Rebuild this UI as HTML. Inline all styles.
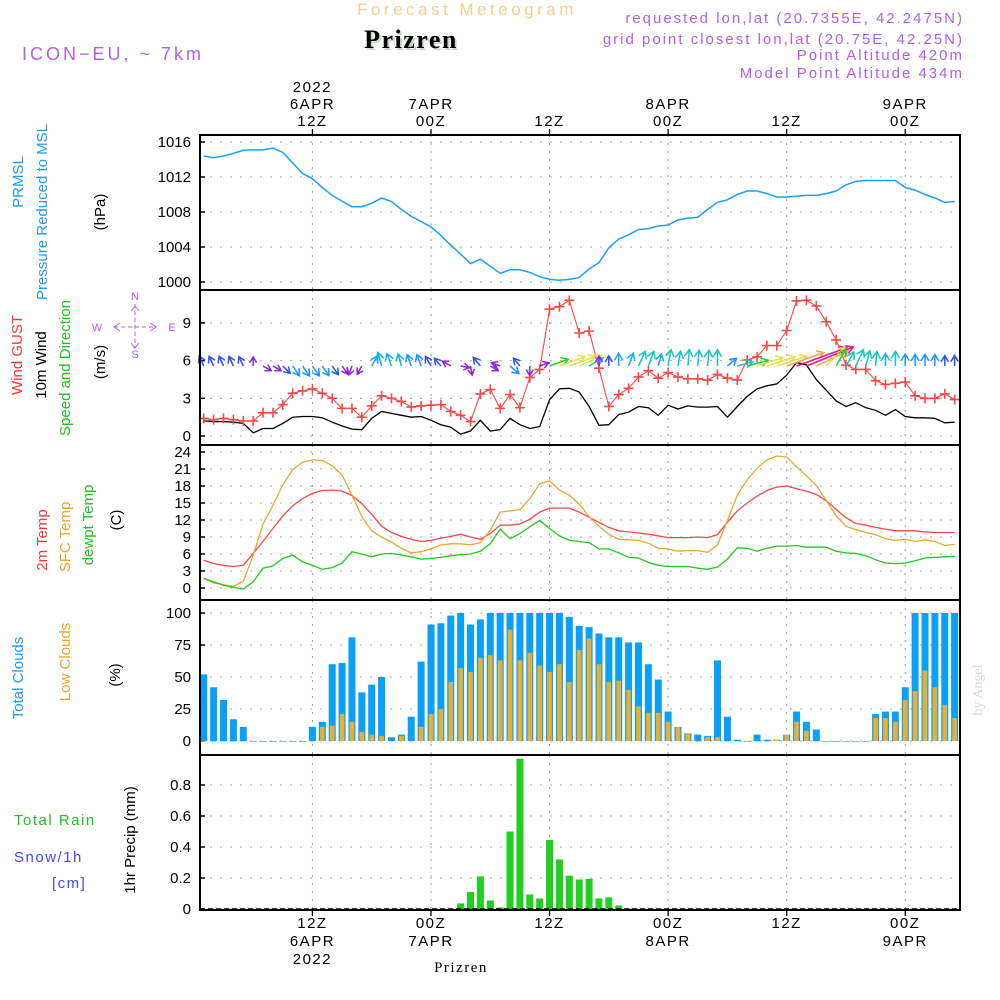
<!DOCTYPE html>
<html><head><meta charset="utf-8">
<style>
html,body{margin:0;padding:0;background:#fff;}
svg{display:block;font-family:"Liberation Sans",sans-serif;}
</style></head>
<body>
<svg id="chart" width="1000" height="1000" viewBox="0 0 1000 1000">
<text x="467" y="15" font-size="17" fill="#f3cf8c" text-anchor="middle" letter-spacing="3.5">Forecast Meteogram</text>
<text x="413" y="50" font-size="26" font-weight="bold" font-family="Liberation Serif, serif" fill="#c8d8c8" text-anchor="middle" letter-spacing="1.5">Prizren</text>
<text x="411" y="48" font-size="26" font-weight="bold" font-family="Liberation Serif, serif" fill="#000" text-anchor="middle" letter-spacing="1.5">Prizren</text>
<text x="22" y="60" font-size="18" fill="#b060e8" letter-spacing="3">ICON−EU,  ~  7km</text>
<g font-size="15" fill="#b060e8" text-anchor="end" letter-spacing="2">
<text x="964" y="23">requested lon,lat (20.7355E, 42.2475N)</text>
<text x="964" y="44">grid point closest lon,lat (20.75E, 42.25N)</text>
<text x="964" y="60">Point Altitude 420m</text>
<text x="964" y="78">Model Point Altitude 434m</text>
</g>
<g id="grid"></g>
<g id="marks"></g>
<g id="labels" font-size="15" fill="#000"></g>
<g font-size="15">
<text transform="translate(23,182) rotate(-90)" text-anchor="middle" fill="#1a9cf0">PRMSL</text>
<text transform="translate(47,212) rotate(-90)" text-anchor="middle" fill="#1a9cf0">Pressure Reduced to MSL</text>
<text transform="translate(105,212) rotate(-90)" text-anchor="middle" fill="#000">(hPa)</text>
<text transform="translate(22,355) rotate(-90)" text-anchor="middle" fill="#f03a3a">Wind GUST</text>
<text transform="translate(46,365) rotate(-90)" text-anchor="middle" fill="#000">10m Wind</text>
<text transform="translate(70,368) rotate(-90)" text-anchor="middle" fill="#22c022">Speed and Direction</text>
<text transform="translate(105,362) rotate(-90)" text-anchor="middle" fill="#000">(m/s)</text>
<g fill="#b060e8" stroke="#b060e8" font-size="11">
<text x="135" y="300" stroke="none" text-anchor="middle">N</text>
<text x="135" y="358" stroke="none" text-anchor="middle">S</text>
<text x="97" y="331" stroke="none" text-anchor="middle">W</text>
<text x="172" y="331" stroke="none" text-anchor="middle">E</text>
<line x1="135" y1="304" x2="135" y2="349" stroke-dasharray="4,3"/>
<line x1="114" y1="327" x2="156" y2="327" stroke-dasharray="4,3"/>
<path d="M131,311L135,306L139,311M131,343L135,348L139,343M120,323L114,327L120,331M150,323L156,327L150,331" fill="none"/>
</g>
<text transform="translate(47,540) rotate(-90)" text-anchor="middle" fill="#f03a3a">2m Temp</text>
<text transform="translate(70,537) rotate(-90)" text-anchor="middle" fill="#e8a830">SFC Temp</text>
<text transform="translate(93,525) rotate(-90)" text-anchor="middle" fill="#22c022">dewpt Temp</text>
<text transform="translate(121,520) rotate(-90)" text-anchor="middle" fill="#000">(C)</text>
<text transform="translate(23,678) rotate(-90)" text-anchor="middle" fill="#1a9cf0">Total Clouds</text>
<text transform="translate(70,662) rotate(-90)" text-anchor="middle" fill="#e8a830">Low Clouds</text>
<text transform="translate(120,675) rotate(-90)" text-anchor="middle" fill="#000">(%)</text>
<text x="14" y="825" fill="#22c022" letter-spacing="1.5">Total  Rain</text>
<text x="14" y="862" fill="#4848f0" letter-spacing="1.5">Snow/1h</text>
<text x="52" y="888" fill="#4848f0" letter-spacing="1.5">[cm]</text>
<text transform="translate(135,840) rotate(-90)" text-anchor="middle" fill="#000">1hr Precip (mm)</text>
</g>
<text x="461" y="972" font-size="15" font-family="Liberation Serif, serif" text-anchor="middle" letter-spacing="1.5">Prizren</text>
<text transform="translate(982,690) rotate(-90)" font-size="14" font-family="Liberation Serif, serif" fill="#d8d8d8" text-anchor="middle">by Angel</text>
</svg>
<script>
const pressure=[1014.4,1014.2,1014.4,1014.7,1015.05,1015.1,1015.1,1015.3,1014.8,1013.6,1012.4,1011.8,1010.8,1009.9,1009.25,1008.6,1008.6,1009.0,1009.6,1009.2,1008.3,1007.5,1006.9,1006.3,1005.3,1004.2,1003.2,1002.1,1002.6,1001.8,1001.0,1001.4,1001.4,1001.1,1000.6,1000.3,1000.2,1000.3,1000.5,1001.5,1002.2,1003.9,1004.9,1005.4,1006.0,1006.1,1006.4,1006.5,1007.1,1007.3,1007.4,1008.3,1009.1,1009.4,1010.0,1010.4,1010.4,1010.1,1009.7,1009.7,1009.8,1009.9,1009.9,1010.1,1010.4,1011.1,1011.5,1011.6,1011.6,1011.6,1011.6,1010.8,1010.5,1010.0,1009.6,1009.1,1009.2];
const gust=[1.4,1.3,1.4,1.3,1.2,1.2,1.85,1.85,2.5,3.4,3.6,3.75,3.4,3.0,2.2,2.2,1.5,2.4,3.2,3.0,2.75,2.3,2.4,2.45,2.5,1.95,1.65,1.15,3.35,3.7,2.2,3.3,2.25,4.65,5.3,10.1,10.3,10.8,8.2,8.35,5.4,2.35,3.3,3.8,4.7,5.2,4.6,5.05,4.7,4.55,4.55,4.45,4.9,4.6,4.45,6.05,6.3,7.2,7.2,8.4,10.75,10.8,10.35,9.1,7.65,5.65,5.3,5.3,4.4,4.1,4.2,4.3,3.2,3.0,3.0,3.35,2.9];
const windSpeed=[1.2,1.15,1.15,1.1,1.0,0.25,0.6,0.6,1.0,1.5,1.55,1.55,1.45,1.1,0.8,0.55,0.5,1.4,1.95,1.8,1.65,1.5,1.55,1.25,0.9,0.7,0.15,0.4,1.25,0.4,0.5,1.4,0.9,0.6,0.75,2.9,3.75,3.8,3.5,2.35,0.85,0.9,1.7,1.9,2.35,2.25,1.65,2.45,2.15,2.4,2.3,2.3,2.35,1.5,2.35,3.15,3.75,4.0,4.15,4.85,5.85,5.65,4.5,3.65,2.8,2.35,2.65,2.25,2.05,1.65,2.1,1.55,1.45,1.45,1.4,1.05,1.1];
const windDir=[-25,-25,-25,-25,-25,0,120,120,135,145,145,145,145,145,145,200,210,30,-15,-20,-15,-20,-20,-30,-40,-60,100,170,-40,120,-70,130,-40,180,70,70,70,70,65,60,0,0,0,20,25,20,15,10,10,5,5,5,0,50,75,75,72,72,72,70,70,68,65,45,30,30,25,15,5,0,0,0,0,0,0,0,0];
const temp2m=[4.9,4.3,4.0,3.8,4.0,6.1,8.2,10.5,12.7,14.5,15.8,16.7,17.2,17.3,17.1,16.3,14.9,13.0,10.9,9.8,9.1,8.6,8.2,8.4,8.8,9.1,9.5,9.0,8.6,9.6,11.1,11.1,11.3,12.1,13.4,14.1,14.1,14.1,13.4,12.5,11.6,10.7,10.1,9.9,9.7,9.5,9.2,8.9,8.9,8.9,9.0,8.9,9.4,11.6,13.6,15.0,16.2,17.2,17.8,18.0,17.5,17.1,16.5,15.4,13.9,12.4,11.4,11.1,10.7,10.4,10.1,10.1,10.1,9.9,9.8,9.8,9.8];
const tempSfc=[1.7,0.9,0.6,0.3,1.2,5.8,11.3,14.6,18.2,20.9,22.2,22.6,22.5,21.6,19.9,16.4,12.6,10.1,9.0,8.1,7.0,6.2,6.4,6.9,7.6,7.8,7.8,7.6,8.0,10.2,13.4,13.6,13.8,15.8,18.4,18.9,17.3,16.4,14.8,12.6,10.9,9.5,8.6,8.5,8.4,7.9,7.0,6.9,6.5,6.6,6.6,6.3,7.6,11.9,16.4,19.1,21.1,22.6,23.3,23.1,21.4,19.8,18.1,15.5,12.7,10.9,10.3,9.8,9.4,8.7,8.4,8.6,8.2,8.5,8.2,7.5,7.7];
const dewpt=[1.7,1.1,0.5,0.1,-0.2,1.1,3.5,3.9,5.2,5.8,4.6,4.0,3.3,3.6,4.4,6.4,6.0,5.5,6.0,6.1,5.8,5.5,5.1,5.2,5.4,5.7,5.9,6.0,6.5,7.8,10.4,8.7,9.6,10.8,11.9,10.5,9.2,8.4,8.2,8.0,6.9,6.9,6.2,5.4,5.3,4.5,4.0,3.8,3.8,3.8,3.5,3.3,3.7,5.1,7.1,7.0,6.5,7.0,7.4,7.4,7.5,7.2,7.2,7.2,6.5,6.2,6.1,5.7,5.0,4.4,4.3,4.4,4.8,5.3,5.4,5.5,5.6];
const totalClouds=[52,42,32,17,11,0,0,0,0,0,0,11,15,60,61,81,38,44,50,3,5,19,62,91,92,98,100,91,95,100,100,100,100,100,100,100,100,97,90,89,84,81,81,77,77,60,48,23,11,6,5,4,63,19,1,0,5,1,1,5,23,15,9,0,0,0,0,0,21,23,23,42,100,100,100,100,100];
const lowClouds=[0,0,0,0,0,0,0,0,0,0,0,0,11,12,21,15,7,5,4,0,4,0,11,21,25,46,57,54,65,67,63,87,63,69,59,54,60,46,71,80,60,46,47,40,27,22,22,15,11,6,0,3,3,0,0,0,0,0,1,5,15,8,0,0,0,0,0,0,18,18,15,32,39,55,42,28,18];
const precip=[0,0,0,0,0,0,0,0,0,0,0,0,0,0,0,0,0,0,0,0,0,0,0,0,0,0,0.036,0.11,0.21,0.055,0.01,0.50,0.97,0.094,0.068,0.445,0.32,0.215,0.19,0.195,0.068,0.075,0.023,0.002,0,0,0,0,0,0,0,0,0,0,0,0,0,0,0,0,0,0,0,0,0,0,0,0,0,0,0,0,0,0,0,0,0];
const pressureTicks=[1000,1004,1008,1012,1016];
const windTicks=[0,3,6,9];
const tempTicks=[0,3,6,9,12,15,18,21,24];
const cloudTicks=[0,25,50,75,100];
const precipTicks=[0,0.2,0.4,0.6,0.8];
const gridHours=[12,24,36,48,60,72];
const topLabels=[["2022","6APR","12Z"],["","7APR","00Z"],["","","12Z"],["","8APR","00Z"],["","","12Z"],["","9APR","00Z"]];
const bottomLabels=[["12Z","6APR","2022"],["00Z","7APR",""],["12Z","",""],["00Z","8APR",""],["12Z","",""],["00Z","9APR",""]];

const NS="http://www.w3.org/2000/svg";
const X0=200,X1=960;
function xT(t){return 431+(t-24)*9.88;}
function yP(v){return 282-(v-1000)*8.75;}
function yW(v){return 436-v*12.56;}
function yTm(v){return 588-v*5.667;}
function yC(v){return 741-v*1.28;}
function yR(v){return 909-v*155;}
const panels=[[135,290,yP,pressureTicks,"pressure"],[290,445,yW,windTicks,"wind"],[445,600,yTm,tempTicks,"temp"],[600,755,yC,cloudTicks,"cloud"],[755,910,yR,precipTicks,"precip"]];
function mk(tag,attrs,parent){const e=document.createElementNS(NS,tag);for(const k in attrs)e.setAttribute(k,attrs[k]);parent.appendChild(e);return e;}
const grid=document.getElementById('grid'),marks=document.getElementById('marks'),labels=document.getElementById('labels');
panels.forEach(p=>{
  const [top,bot,yf,ticks,name]=p;
  const frame=mk('rect',{x:X0,y:top,width:X1-X0,height:bot-top,fill:'#fff',stroke:'none'},grid);
  
  
  gridHours.forEach(h=>{
    const l=mk('line',{x1:xT(h),x2:xT(h),y1:top,y2:bot,stroke:'#999','stroke-dasharray':'2,6'},grid);
    
    
  });
  ticks.forEach(v=>{
    const y=yf(v);
    const l=mk('line',{x1:X0,x2:X1,y1:y,y2:y,stroke:'#aaa','stroke-dasharray':'2,8'},grid);
    
    
    mk('line',{x1:X0,x2:X0+5,y1:y,y2:y,stroke:'#000','stroke-width':1.5},grid);
    const t=mk('text',{x:191,y:y+5,'text-anchor':'end'},labels);
    t.textContent=String(v);
    
    
  });
});
function line(arr,xf,yf,color,name,w){
  const d=arr.map((v,i)=>(i?'L':'M')+xf(i+1).toFixed(1)+','+yf(v).toFixed(1)).join('');
  const p=mk('path',{d:d,fill:'none',stroke:color,'stroke-width':w||1.3},marks);
  
  
}
line(pressure,xT,yP,'#1aa0f8','pressure-line',1.5);
totalClouds.forEach((v,i)=>{
  const x=xT(i+1);
  const r=mk('rect',{x:Math.max(X0,x-3.5),y:yC(v),width:Math.min(7,X1-x+3.5),height:Math.max(0.8,v*1.28),fill:'#0aa0fa'},marks);
  
  
});
lowClouds.forEach((v,i)=>{
  const x=xT(i+1);
  const r=mk('rect',{x:x-2.3,y:yC(v),width:4.6,height:Math.max(0.6,v*1.28),fill:'#e8b030'},marks);
  
  
});
precip.forEach((v,i)=>{
  if(v<=0)return;
  const x=xT(i+1);
  const r=mk('rect',{x:x-3.5,y:yR(v),width:7,height:v*155,fill:'#20d020'},marks);
  
  
});
mk('line',{x1:X0,x2:X1,y1:909,y2:909,stroke:'#000','stroke-width':1.5,'stroke-dasharray':'5,3'},marks);
line(temp2m,xT,yTm,'#f84848','temp-2m-line');
line(tempSfc,xT,yTm,'#e8a830','temp-sfc-line');
line(dewpt,xT,yTm,'#20c820','dewpt-line');
line(windSpeed,xT,yW,'#000','wind-speed-line');
line(gust,xT,yW,'#f84848','gust-line',1.1);
gust.forEach((v,i)=>{
  const x=xT(i+1),y=yW(v);
  const g=mk('path',{d:`M${x-5},${y}H${x+5}M${x},${y-5}V${y+5}`,stroke:'#f84848','stroke-width':1.6},marks);
  
  
});
function windColor(s){
  if(s<0.9)return '#9020e0';
  if(s<1.3)return '#3050f8';
  if(s<1.6)return '#1898ff';
  if(s<2.0)return '#10b4f0';
  if(s<2.7)return '#10c8c8';
  if(s<3.3)return '#22d022';
  if(s<4.4)return '#e8dc50';
  if(s<5.3)return '#f0a840';
  return '#f01090';
}
windSpeed.forEach((s,i)=>{
  const x=xT(i+1),y=366;
  const L=9+1.3*s*s;
  const a=windDir[i]*Math.PI/180;
  const dx=Math.sin(a),dy=-Math.cos(a);
  const ex=x+dx*L,ey=y+dy*L;
  const h=Math.min(7,3+L*0.3);
  const px=-dy,py=dx;
  const bx=ex-dx*h,by=ey-dy*h;
  const d=`M${x.toFixed(1)},${y}L${ex.toFixed(1)},${ey.toFixed(1)}M${(bx+px*h*0.6).toFixed(1)},${(by+py*h*0.6).toFixed(1)}L${ex.toFixed(1)},${ey.toFixed(1)}L${(bx-px*h*0.6).toFixed(1)},${(by-py*h*0.6).toFixed(1)}`;
  const p=mk('path',{d:d,fill:'none',stroke:windColor(s),'stroke-width':1.5},marks);
  
  
});
panels.forEach(p=>{
  const r=mk('rect',{x:X0,y:p[0],width:X1-X0,height:p[1]-p[0],fill:'none',stroke:'#000','stroke-width':2},marks);
  
  
});
gridHours.forEach((h,k)=>{
  const x=xT(h);
  mk('line',{x1:x,x2:x,y1:135,y2:129,stroke:'#000','stroke-width':1.3},marks);
  mk('line',{x1:x,x2:x,y1:910,y2:916,stroke:'#000','stroke-width':1.3},marks);
  topLabels[k].forEach((s,j)=>{
    if(!s)return;
    const t=mk('text',{x:x,y:92+j*17,'text-anchor':'middle','letter-spacing':'1.5'},labels);
    t.textContent=s;
    
    
  });
  bottomLabels[k].forEach((s,j)=>{
    if(!s)return;
    const t=mk('text',{x:x,y:928+j*18,'text-anchor':'middle','letter-spacing':'1.5'},labels);
    t.textContent=s;
    
    
  });
});
</script>
</body></html>
